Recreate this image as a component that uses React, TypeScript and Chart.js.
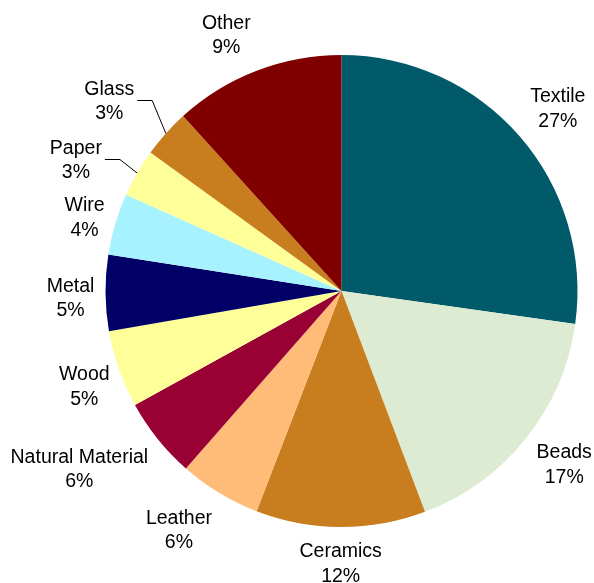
import React, { useEffect, useRef } from "react";
import { Chart, registerables } from "chart.js";

Chart.register(...registerables);

const categories = [
  "Textile",
  "Beads",
  "Ceramics",
  "Leather",
  "Natural Material",
  "Wood",
  "Metal",
  "Wire",
  "Paper",
  "Glass",
  "Other",
];
const values = [27.2, 17.0, 11.6, 5.6, 5.5, 5.3, 5.2, 4.2, 3.3, 3.3, 11.7];
const percentLabels = ["27%", "17%", "12%", "6%", "6%", "5%", "5%", "4%", "3%", "3%", "9%"];
const colors = [
  "#005A6A",
  "#DDEBD2",
  "#C87D1E",
  "#FFBC78",
  "#990033",
  "#FFFF99",
  "#000066",
  "#A6F2FF",
  "#FFFF99",
  "#C87D1E",
  "#800000",
];

const FONT_SIZE = 19.5;
const FONT = `${FONT_SIZE}px 'Liberation Sans', Arial, sans-serif`;
const LINE_H = 24.5;
const CAP_H = 0.716 * FONT_SIZE;
const PAD = 11;
// layout options for the label plugin (not data)
const leaderExtra: Record<number, number> = { 8: 18, 9: 22 };
const labelNudge: Record<number, [number, number]> = {
  0: [2, 3],
  1: [1, -5],
  3: [-15, -6],
  4: [-16, -21],
  5: [6, 2],
  6: [0, 4],
  7: [5, 3],
  8: [-6, 18],
  9: [-6, 12],
  10: [-15, 3],
};

const labelPlugin = {
  id: "outsideLabels",
  afterDraw(chart: any) {
    const ctx = chart.ctx as CanvasRenderingContext2D;
    const meta = chart.getDatasetMeta(0);
    ctx.save();
    ctx.font = FONT;
    ctx.fillStyle = "#000";
    ctx.textAlign = "center";
    ctx.textBaseline = "alphabetic";
    meta.data.forEach((arc: any, i: number) => {
      const { x, y, startAngle, endAngle, outerRadius } = arc.getProps(
        ["x", "y", "startAngle", "endAngle", "outerRadius"],
        true
      );
      const mid = (startAngle + endAngle) / 2;
      const ux = Math.cos(mid);
      const uy = Math.sin(mid);
      const l1 = categories[i];
      const l2 = percentLabels[i];
      const w = Math.max(ctx.measureText(l1).width, ctx.measureText(l2).width);
      const h = LINE_H * 2;
      const extent = Math.abs(ux) * (w / 2) + Math.abs(uy) * (h / 2);
      const extra = leaderExtra[i] || 0;
      const d = outerRadius + PAD + extra + extent;
      const nudge = labelNudge[i] || [0, 0];
      const cx = x + ux * d + nudge[0];
      const cy = y + uy * d + nudge[1];
      ctx.fillText(l1, cx, cy - LINE_H / 2 + CAP_H / 2);
      ctx.fillText(l2, cx, cy + LINE_H / 2 + CAP_H / 2);
      if (extra) {
        const ax = x + ux * outerRadius;
        const ay = y + uy * outerRadius;
        const sx = cx + w / 2 + 3;
        const ex = sx + 15;
        const ly = Math.round(cy) + 0.5;
        ctx.beginPath();
        ctx.strokeStyle = "#000";
        ctx.lineWidth = 1;
        ctx.moveTo(sx, ly);
        ctx.lineTo(ex, ly);
        ctx.lineTo(ax, ay);
        ctx.stroke();
      }
    });
    ctx.restore();
  },
};

export default function App() {
  const ref = useRef<HTMLCanvasElement | null>(null);
  useEffect(() => {
    if (!ref.current) return;
    const chart = new Chart(ref.current, {
      type: "pie",
      data: {
        labels: categories,
        datasets: [
          {
            data: values,
            backgroundColor: colors,
            borderWidth: 0,
          },
        ],
      },
      options: {
        responsive: false,
        animation: false,
        layout: { padding: { left: 105.5, right: 16.5, top: 55, bottom: 56 } },
        plugins: {
          legend: { display: false },
          tooltip: { enabled: false },
        },
      },
      plugins: [labelPlugin],
    });
    return () => chart.destroy();
  }, []);
  return (
    <div style={{ position: "fixed", left: 0, top: 0, width: 594, height: 583, background: "#fff" }}>
      <canvas ref={ref} width={594} height={583} />
    </div>
  );
}
